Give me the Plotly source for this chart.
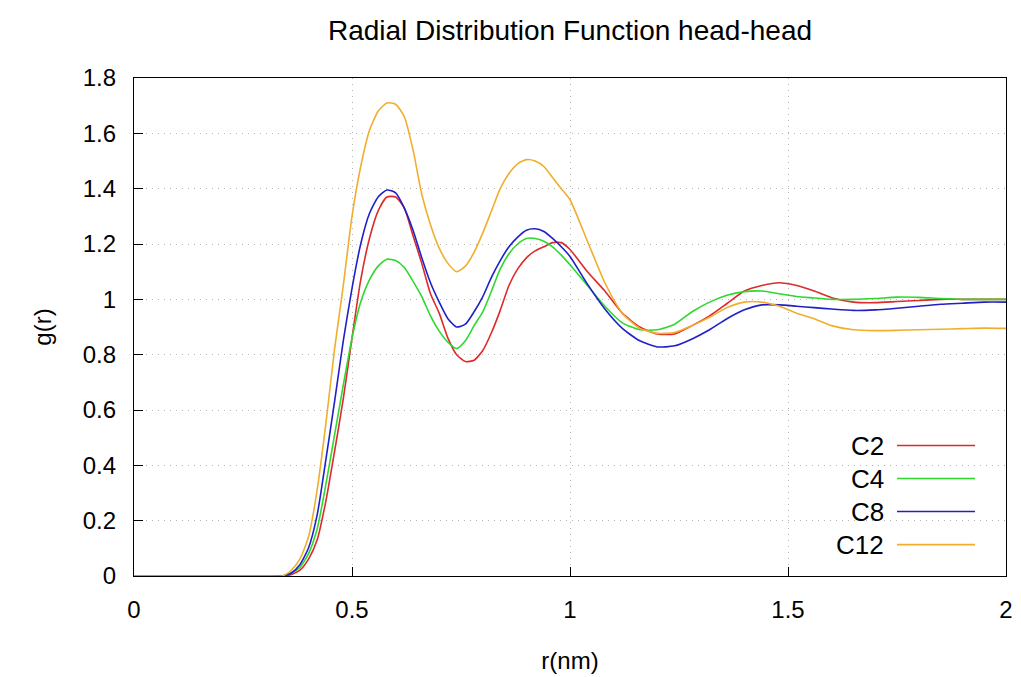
import plotly.graph_objects as go

r_nm = [0.00, 0.30, 0.34, 0.36, 0.38, 0.40, 0.42, 0.44, 0.46, 0.48, 0.50, 0.52, 0.54, 0.56, 0.58,
        0.60, 0.62, 0.64, 0.66, 0.68, 0.70, 0.72, 0.74, 0.76, 0.78, 0.80, 0.82, 0.84, 0.86, 0.88,
        0.90, 0.92, 0.94, 0.96, 0.98, 1.00, 1.04, 1.08, 1.12, 1.16, 1.20, 1.24, 1.28, 1.32, 1.36,
        1.40, 1.44, 1.48, 1.52, 1.56, 1.60, 1.65, 1.70, 1.75, 1.80, 1.85, 1.90, 1.95, 2.00]

g_c2 = [0, 0, 0, 0.005, 0.02, 0.06, 0.13, 0.27, 0.45, 0.64, 0.86, 1.07, 1.22, 1.32, 1.37,
        1.37, 1.33, 1.23, 1.13, 1.02, 0.95, 0.86, 0.80, 0.775, 0.78, 0.815, 0.88, 0.96, 1.05, 1.11,
        1.15, 1.175, 1.19, 1.205, 1.205, 1.18, 1.10, 1.03, 0.95, 0.90, 0.875, 0.875, 0.905, 0.94, 0.985,
        1.03, 1.05, 1.06, 1.05, 1.03, 1.006, 0.99, 0.988, 0.992, 0.996, 1.0, 1.0, 1.0, 1.0]

g_c4 = [0, 0, 0, 0.01, 0.03, 0.08, 0.17, 0.33, 0.51, 0.69, 0.86, 0.99, 1.07, 1.12, 1.145,
        1.14, 1.115, 1.065, 1.01, 0.94, 0.885, 0.845, 0.822, 0.85, 0.905, 0.955, 1.03, 1.11, 1.165, 1.20,
        1.22, 1.22, 1.21, 1.19, 1.16, 1.125, 1.05, 0.975, 0.915, 0.89, 0.89, 0.91, 0.955, 0.99, 1.015,
        1.028, 1.03, 1.02, 1.01, 1.005, 1.0, 1.0, 1.003, 1.008, 1.007, 1.003, 1.0, 1.0, 1.0]

g_c8 = [0, 0, 0, 0.01, 0.04, 0.10, 0.22, 0.42, 0.63, 0.85, 1.04, 1.20, 1.31, 1.37, 1.395,
        1.385, 1.33, 1.25, 1.15, 1.06, 0.99, 0.93, 0.90, 0.91, 0.955, 1.01, 1.08, 1.14, 1.19, 1.225,
        1.25, 1.255, 1.245, 1.22, 1.19, 1.155, 1.055, 0.965, 0.895, 0.85, 0.828, 0.832, 0.857, 0.89, 0.93,
        0.962, 0.98, 0.98, 0.975, 0.97, 0.965, 0.96, 0.962, 0.968, 0.975, 0.982, 0.986, 0.99, 0.99]

g_c12 = [0, 0, 0, 0.02, 0.06, 0.14, 0.31, 0.55, 0.82, 1.05, 1.30, 1.48, 1.61, 1.68, 1.71,
         1.705, 1.66, 1.54, 1.38, 1.27, 1.185, 1.13, 1.10, 1.12, 1.17, 1.24, 1.32, 1.40, 1.455, 1.49,
         1.505, 1.50, 1.48, 1.44, 1.40, 1.36, 1.21, 1.06, 0.95, 0.895, 0.877, 0.88, 0.905, 0.935, 0.97,
         0.99, 0.99, 0.975, 0.95, 0.93, 0.905, 0.89, 0.887, 0.888, 0.89, 0.892, 0.894, 0.896, 0.895]

series_names = ["C2", "C4", "C8", "C12"]
series_colors = ["#dd2a2a", "#2ed82e", "#2020c8", "#f0ae2c"]
series_values = [g_c2, g_c4, g_c8, g_c12]

x_ticks = [0, 0.5, 1, 1.5, 2]
x_tick_labels = ["0", "0.5", "1", "1.5", "2"]
y_ticks = [0, 0.2, 0.4, 0.6, 0.8, 1.0, 1.2, 1.4, 1.6, 1.8]
y_tick_labels = ["0", "0.2", "0.4", "0.6", "0.8", "1", "1.2", "1.4", "1.6", "1.8"]

FONT = "Liberation Sans, Arial, sans-serif"

fig = go.Figure()
for name, color, vals in zip(series_names, series_colors, series_values):
    fig.add_trace(go.Scatter(x=r_nm, y=vals, mode="lines", name=name,
                             line=dict(color=color, width=1.6, shape="spline", smoothing=0.6),
                             showlegend=False))

# gnuplot-style key: label right-aligned, sample line to its right
key_top = 0.262   # paper y of first entry
key_step = 0.0663
for i, (name, color) in enumerate(zip(series_names, series_colors)):
    yk = key_top - i * key_step
    fig.add_annotation(xref="paper", yref="paper", x=0.862, y=yk, text=name,
                       showarrow=False, xanchor="right", yanchor="middle",
                       font=dict(family=FONT, size=26, color="#000"))
    fig.add_shape(type="line", xref="paper", yref="paper", x0=0.875, x1=0.9645, y0=yk, y1=yk,
                  line=dict(color=color, width=1.6))

axis_common = dict(showline=True, linecolor="black", linewidth=1.2, mirror=True,
                   ticks="inside", ticklen=9, tickcolor="black", tickwidth=1.2,
                   showgrid=True, gridcolor="#b4b4b4", griddash="1px,5px", gridwidth=1,
                   zeroline=False, automargin=False,
                   tickfont=dict(family=FONT, size=24, color="#000"))

fig.update_layout(
    width=1021, height=677,
    margin=dict(l=134, r=15, t=78, b=101),
    paper_bgcolor="white", plot_bgcolor="white",
    title=dict(text="Radial Distribution Function head-head", xref="paper", x=0.5, xanchor="center",
               yref="container", y=0.955, yanchor="middle",
               font=dict(family=FONT, size=28, color="#000")),
    xaxis=dict(range=[0, 2], tickvals=x_ticks, ticktext=x_tick_labels, ticklabelstandoff=12,
               title=dict(text="r(nm)", font=dict(family=FONT, size=24, color="#000"), standoff=30),
               **axis_common),
    yaxis=dict(range=[0, 1.8], tickvals=y_ticks, ticktext=y_tick_labels, ticklabelstandoff=12,
               title=dict(text="g(r)", font=dict(family=FONT, size=24, color="#000"), standoff=24),
               **axis_common),
)

fig.write_html("out.html")
